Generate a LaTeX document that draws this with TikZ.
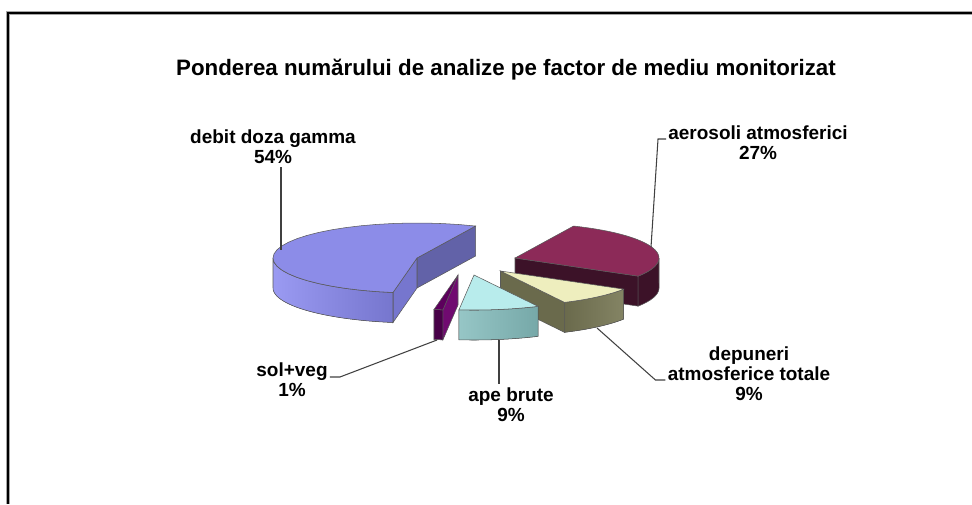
\documentclass[tikz,border=0pt]{standalone}
\usepackage{fontspec}
\setmainfont{Liberation Sans}

% pie geometry (in pixels of the chart)
\newcommand{\pieRx}{144}
\newcommand{\pieRy}{35}
\newcommand{\pieH}{30}
% radial side face: centre x, centre y, angle, style
\newcommand{\radface}[4]{\filldraw[#4] (#1,#2) -- ({#1+\pieRx*cos(#3)},{#2-\pieRy*sin(#3)}) -- ({#1+\pieRx*cos(#3)},{#2+\pieH-\pieRy*sin(#3)}) -- (#1,#2+\pieH) -- cycle;}
% outer side face: centre x, centre y, from, to, style
\newcommand{\outface}[5]{\filldraw[#5] ({#1+\pieRx*cos(#3)},{#2-\pieRy*sin(#3)})
    -- plot[domain=#3:#4, samples=30] ({#1+\pieRx*cos(\x)},{#2-\pieRy*sin(\x)})
    -- plot[domain=#4:#3, samples=30] ({#1+\pieRx*cos(\x)},{#2+\pieH-\pieRy*sin(\x)}) -- cycle;}
% top face: centre x, centre y, from, to, style
\newcommand{\topface}[5]{\filldraw[#5] (#1,#2)
    -- plot[domain=#3:#4, samples=30] ({#1+\pieRx*cos(\x)},{#2-\pieRy*sin(\x)}) -- cycle;}

\definecolor{gammaTop}{RGB}{140,140,232}
\definecolor{gammaLight}{RGB}{154,154,242}
\definecolor{gammaSide}{RGB}{118,118,206}
\definecolor{gammaBack}{RGB}{98,98,168}
\definecolor{aerTop}{RGB}{140,42,88}
\definecolor{aerSide}{RGB}{60,18,40}
\definecolor{depTop}{RGB}{238,238,190}
\definecolor{depSide}{RGB}{106,106,76}
\definecolor{depLight}{RGB}{132,132,100}
\definecolor{apeTop}{RGB}{184,236,236}
\definecolor{apeSide}{RGB}{118,168,168}
\definecolor{apeLight}{RGB}{150,198,198}
\definecolor{solTop}{RGB}{92,0,92}
\definecolor{solSide}{RGB}{72,0,72}
\definecolor{solLight}{RGB}{112,10,112}

\begin{document}
\begin{tikzpicture}[x=0.02cm, y=-0.02cm,
    edge/.style={draw=black!65, line width=0.3pt},
    lbl/.style={align=center, font=\bfseries\fontsize{10.8}{11.4}\selectfont, inner sep=0pt},
    leader/.style={draw=black!75, line width=0.6pt}]

    \useasboundingbox (0,0) rectangle (972,504);

    % Frame of the chart area
    \draw[black!35, line width=1.8pt] (8,504) -- (8,13) -- (972,13);
    \draw[black, line width=0.6pt] (8,504) -- (8,13) -- (972,13);

    % Title
    \node[font=\bfseries\fontsize{12.7}{14}\selectfont] (title) at (506,70)
        {Ponderea numărului de analize pe factor de mediu monitorizat};

    % debit doza gamma (54%)
    \radface{417}{258}{66}{edge, fill=gammaBack}
    \radface{417}{258}{260.4}{edge, fill=gammaSide}
    \outface{417}{258}{180}{260.4}{edge, left color=gammaLight, right color=gammaSide}
    \topface{417}{258}{66}{260.4}{edge, fill=gammaTop}

    % aerosoli atmosferici (27%)
    \radface{515}{258}{-31.2}{edge, fill=aerSide}
    \outface{515}{258}{-31.2}{0}{edge, fill=aerSide}
    \topface{515}{258}{-31.2}{66}{edge, fill=aerTop}

    % depuneri atmosferice totale (9%)
    \radface{500.5}{271}{-63.6}{edge, fill=depSide}
    \outface{500.5}{271}{-63.6}{-31.2}{edge, left color=depSide, right color=depLight}
    \topface{500.5}{271}{-63.6}{-31.2}{edge, fill=depTop}

    % ape brute (9%)
    \outface{474}{275}{-96}{-63.6}{edge, left color=apeLight, right color=apeSide}
    \topface{474}{275}{-96}{-63.6}{edge, fill=apeTop}

    % sol+veg (1%)
    \radface{458}{275}{-96}{edge, fill=solLight}
    \outface{458}{275}{-99.6}{-96}{edge, fill=solSide}
    \topface{458}{275}{-99.6}{-96}{edge, fill=solTop}

    % Labels
    \node[lbl] (gammaLbl) at (273,147) {debit doza gamma\\54\%};
    \node[lbl] (aerLbl) at (758,143) {aerosoli atmosferici\\27\%};
    \node[lbl] (depLbl) at (749,374) {depuneri\\atmosferice totale\\9\%};
    \node[lbl] (solLbl) at (292,380) {sol+veg\\1\%};
    \node[lbl] (apeLbl) at (511,405) {ape brute\\9\%};

    % Leader ends on the slices
    \coordinate (gammaTip) at (281,250);
    \coordinate (aerTip) at (651,247);
    \coordinate (depTip) at (597,328);
    \coordinate (solTip) at (437,340);
    \coordinate (apeTip) at (499,340);

    % Leader lines
    \draw[leader] (gammaLbl.south -| gammaTip) ++(0,3) -- (gammaTip);
    \draw[leader] (aerLbl.west) ++(-2,-4) -- ++(-8,0) -- (aerTip);
    \draw[leader] (depLbl.west) ++(-2,6) -- ++(-10,0) -- (depTip);
    \draw[leader] (solLbl.east) ++(2,-3) -- ++(10,0) -- (solTip);
    \draw[leader] (apeTip) -- ([yshift=2pt]apeTip |- apeLbl.north);

\end{tikzpicture}
\end{document}
